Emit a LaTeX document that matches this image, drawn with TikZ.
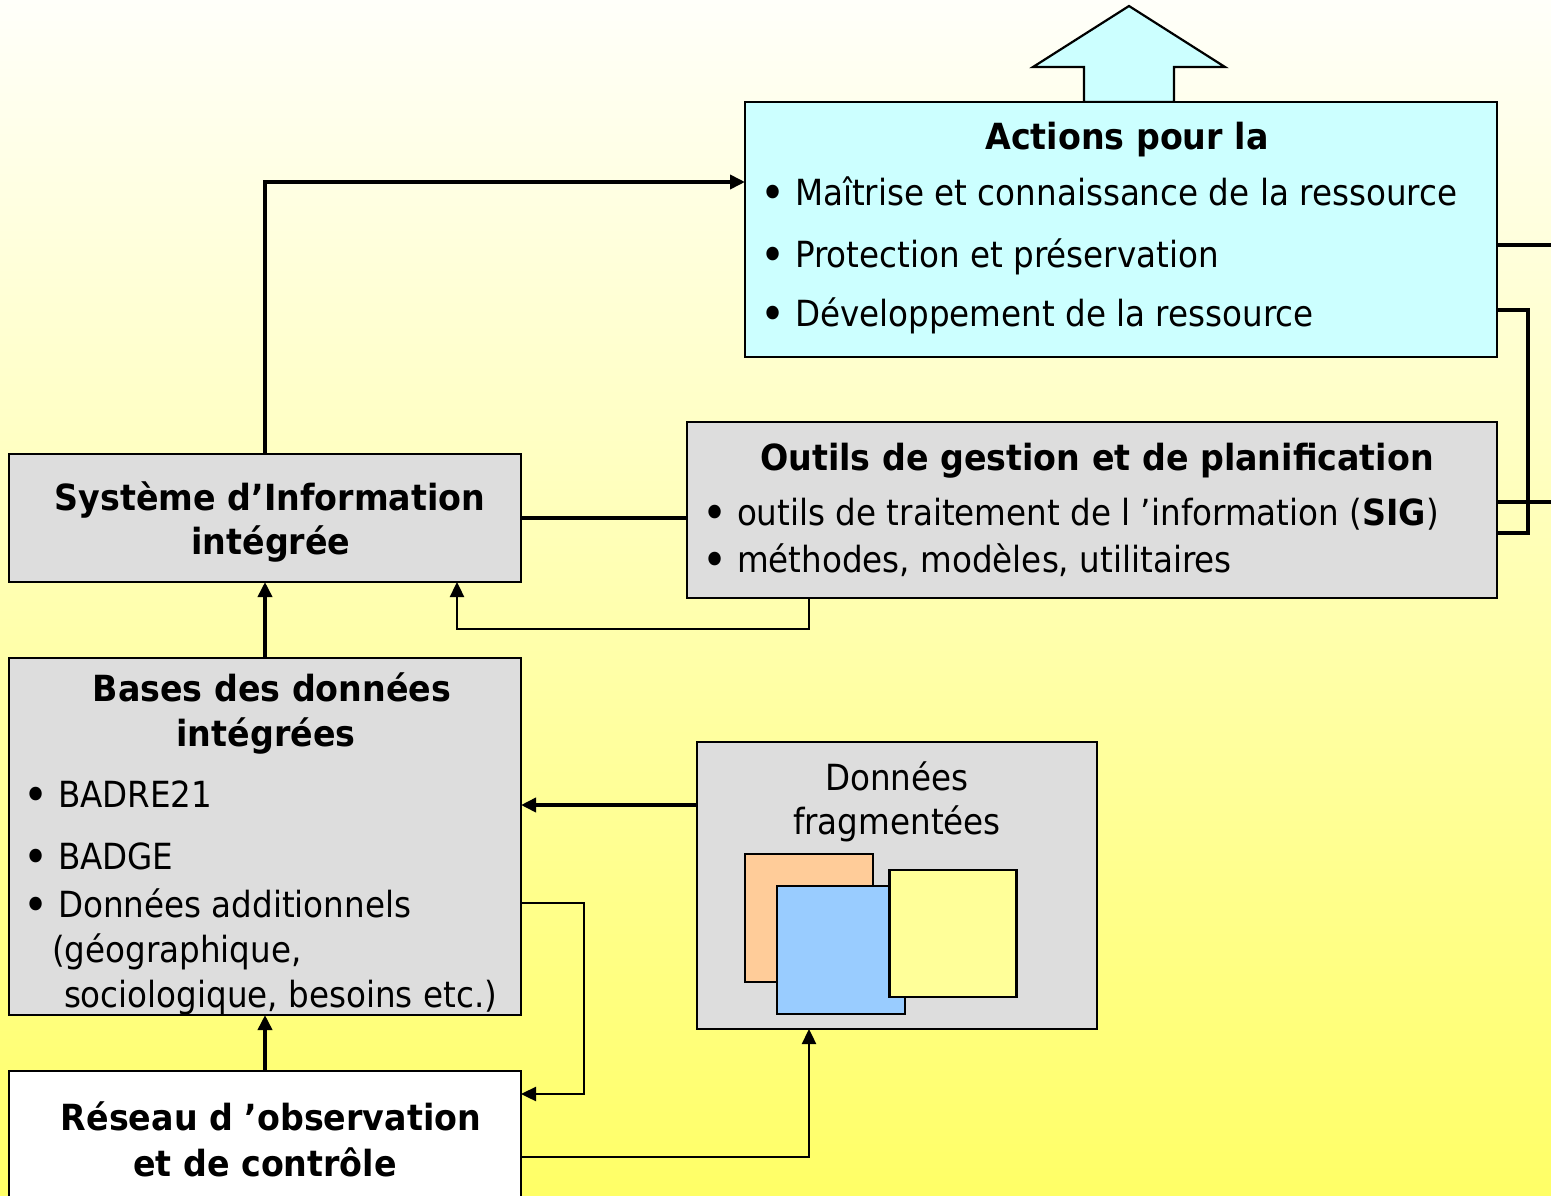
\documentclass[tikz,border=0pt]{standalone}
\usepackage{fontspec}
\setmainfont{DejaVu Sans}[UprightFeatures={FakeStretch=0.905}, BoldFeatures={FakeStretch=0.925}]
\usetikzlibrary{arrows.meta}
\definecolor{cyanbox}{HTML}{CCFFFF}
\definecolor{graybox}{HTML}{DDDDDD}
\definecolor{orsq}{HTML}{FFCC99}
\definecolor{blsq}{HTML}{99CCFF}
\definecolor{yesq}{HTML}{FFFF99}
\definecolor{bgtop}{HTML}{FFFFFA}
\definecolor{bgmid}{HTML}{FFFFC8}
\definecolor{bgbot}{HTML}{FFFF66}
\newcommand\itm{\llap{\makebox[44pt]{\raisebox{-4pt}{\fontsize{47}{47}\selectfont •}}}}
\tikzset{
  box/.style={draw=black, line width=2.2pt, inner sep=0pt, outer sep=0pt},
  txt/.style={inner sep=0pt, outer sep=0pt, font=\fontsize{36}{43}\selectfont},
  btxt/.style={txt, font=\fontsize{36}{43}\selectfont\bfseries, anchor=base},
  ltxt/.style={txt, anchor=base west},
  heavy/.style={line width=3.6pt},
  light/.style={line width=2.4pt},
  arr/.style={-{Triangle[length=15pt,width=14pt]}},
}
\begin{document}
\begin{tikzpicture}[x=1pt,y=-1pt]
\useasboundingbox (0,0) rectangle (1551,1196);
\shade[top color=bgtop, middle color=bgmid, bottom color=bgbot] (0,0) rectangle (1551,1196);

% top arrow
\draw[line width=2.2pt, fill=cyanbox, line join=miter] (1129,6) -- (1225,67) -- (1174,67) -- (1174,102) -- (1084,102) -- (1084,67) -- (1033,67) -- cycle;

% boxes
\node[box, fill=cyanbox, minimum width=752pt, minimum height=255pt] (act) at (1121,229.5) {};
\node[box, fill=graybox, minimum width=810pt, minimum height=176pt] (out) at (1092,510) {};
\node[box, fill=graybox, minimum width=512pt, minimum height=128pt] (sys) at (265,518) {};
\node[box, fill=graybox, minimum width=512pt, minimum height=357pt] (bas) at (265,836.5) {};
\node[box, fill=white, minimum width=512pt, minimum height=160pt] (res) at (265,1151) {};
\node[box, fill=graybox, minimum width=400pt, minimum height=287pt] (don) at (897,885.5) {};

% squares
\node[box, fill=orsq, minimum size=128pt] (sq1) at (809,918) {};
\node[box, fill=blsq, minimum size=128pt] (sq2) at (841,950) {};
\node[box, fill=yesq, minimum size=127pt] (sq3) at (953,933.5) {};

% texts: actions
\node[btxt] (t1) at (1127,150) {Actions pour la};
\node[ltxt] (t2) at (795,205) {\itm Maîtrise et connaissance de la ressource};
\node[ltxt] (t3) at (795,267) {\itm Protection et préservation};
\node[ltxt] (t4) at (795,326) {\itm Développement de la ressource};
% outils
\node[btxt] (t5) at (1097,470) {Outils de gestion et de planification};
\node[ltxt] (t6) at (737,525) {\itm outils de traitement de l ’information (\textbf{SIG})};
\node[ltxt] (t7) at (737,572) {\itm méthodes, modèles, utilitaires};
% systeme
\node[btxt] (t8) at (270,510) {Système d’Information};
\node[btxt] (t9) at (271,554) {intégrée};
% bases
\node[btxt] (t10) at (272,701) {Bases des données};
\node[btxt] (t11) at (266,746) {intégrées};
\node[ltxt] (t12) at (58,807) {\itm BADRE21};
\node[ltxt] (t13) at (58,869) {\itm BADGE};
\node[ltxt] (t14) at (58,917) {\itm Données additionnels};
\node[ltxt] (t15) at (52,962) {(géographique,};
\node[ltxt] (t16) at (64,1007) {sociologique, besoins etc.)};
% reseau
\node[btxt] (t17) at (271,1130) {Réseau d ’observation};
\node[btxt] (t18) at (265,1176) {et de contrôle};
% donnees
\node[txt, anchor=base] (t19) at (897,790) {Données};
\node[txt, anchor=base] (t20) at (897,834) {fragmentées};

% connectors
\draw[heavy, arr] (sys.north) |- ([yshift=-80pt]act.north west);
\draw[heavy] (sys.east) -- (out.west |- sys.east);
\draw[light, arr] ([xshift=122pt]out.south west) -- ++(0,31) -| ([xshift=-64pt]sys.south east);
\draw[heavy, arr] (bas.north) -- (sys.south);
\coordinate (dw) at ([yshift=80.5pt]don.west);
\draw[heavy, arr] (dw) -- (bas.east |- dw);
\draw[light, arr] ([yshift=-66.5pt]bas.east) -- ++(63,0) |- ([yshift=57pt]res.east);
\draw[heavy, arr] (res.north) -- (bas.south);
\draw[light, arr] ([yshift=-6pt]res.east) -| ([xshift=-88pt]don.south);
\draw[heavy] ([yshift=-15.5pt]act.east) -- ++(60,0);
\draw[heavy] ([yshift=-80.5pt]act.east) -- ++(31,0) |- ([yshift=-23pt]out.east);
\draw[heavy] ([yshift=8pt]out.east) -- ++(60,0);
\end{tikzpicture}
\end{document}
